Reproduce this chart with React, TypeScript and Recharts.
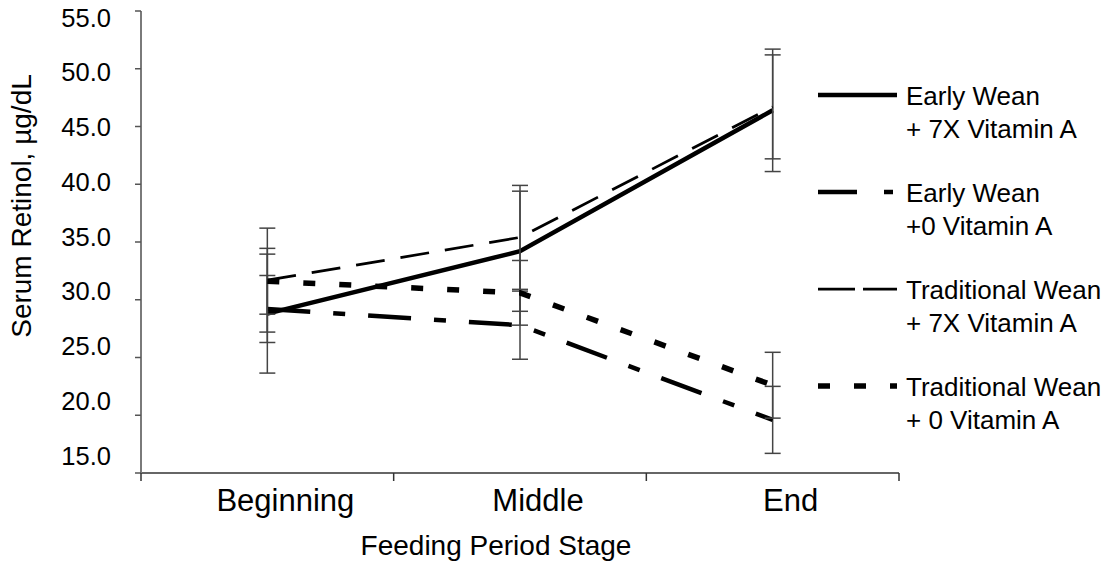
import React from "react";
import { LineChart, Line, XAxis, YAxis, ErrorBar, Legend, Label } from "recharts";

const FONT = "'Liberation Sans', Arial, sans-serif";

const stages = ["Beginning", "Middle", "End"];

const earlyWean7x = [28.8, 34.2, 46.4];
const earlyWean7xErr = [5.15, 5.2, 5.3];
const earlyWean0 = [29.2, 27.8, 19.6];
const earlyWean0Err = [2.9, 2.95, 2.9];
const tradWean7x = [31.7, 35.4, 46.7];
const tradWean7xErr = [4.5, 4.5, 4.5];
const tradWean0 = [31.6, 30.6, 22.6];
const tradWean0Err = [2.85, 2.8, 2.85];

const yTicks = [15, 20, 25, 30, 35, 40, 45, 50, 55];

const seriesLabels = [
  ["Early Wean", "+ 7X Vitamin A"],
  ["Early Wean", "+0 Vitamin A"],
  ["Traditional Wean", "+ 7X Vitamin A"],
  ["Traditional Wean", "+ 0 Vitamin A"],
];

const data = stages.map((stage, i) => ({
  stage,
  ew7: earlyWean7x[i],
  ew7Err: earlyWean7xErr[i],
  ew0: earlyWean0[i],
  ew0Err: earlyWean0Err[i],
  tw7: tradWean7x[i],
  tw7Err: tradWean7xErr[i],
  tw0: tradWean0[i],
  tw0Err: tradWean0Err[i],
}));

// line looks, in the same order as seriesLabels
const series = [
  { key: "ew7", width: 4.5, dash: undefined, legendDash: undefined },
  { key: "ew0", width: 4.5, dash: "43 23 12 23", legendDash: "39 27 9 27" },
  { key: "tw7", width: 2.75, dash: "29 16", legendDash: "37 8" },
  { key: "tw0", width: 5.5, dash: "12 24", legendDash: "12 24" },
];

function YTick(props: any) {
  const { x, y, payload } = props;
  const v = payload.value as number;
  // excel spreads the labels a little tighter than the ticks
  const shift = 6.5 - (3 * (55 - v)) / 5;
  return (
    <text
      x={x}
      y={y + shift + 9}
      textAnchor="end"
      fontFamily={FONT}
      fontSize={25.5}
      fill="#000"
    >
      {v.toFixed(1)}
    </text>
  );
}

function XTick(props: any) {
  const { x, y, payload, index, visibleTicksCount } = props;
  const half = payload.offset ?? 0;
  const last = index === (visibleTicksCount ?? 3) - 1;
  return (
    <g>
      <line x1={x - half} x2={x - half} y1={y} y2={y + 8} stroke="#333" strokeWidth={1.5} />
      {last && (
        <line x1={x + half} x2={x + half} y1={y} y2={y + 8} stroke="#333" strokeWidth={1.5} />
      )}
      <text x={x + 18} y={y + 38} textAnchor="middle" fontFamily={FONT} fontSize={31} fill="#000">
        {payload.value}
      </text>
    </g>
  );
}

function LegendContent() {
  return (
    <div style={{ fontFamily: FONT, fontSize: 26, color: "#000" }}>
      {series.map((s, i) => (
        <div key={s.key} style={{ display: "flex", height: 97, alignItems: "flex-start" }}>
          <svg width={80} height={33} style={{ flex: "none" }}>
            <line
              x1={0}
              x2={79}
              y1={15}
              y2={15}
              stroke="#000"
              strokeWidth={s.width}
              strokeDasharray={s.legendDash}
            />
          </svg>
          <div style={{ marginLeft: 8, lineHeight: "33px", whiteSpace: "nowrap" }}>
            {seriesLabels[i][0]}
            <br />
            {seriesLabels[i][1]}
          </div>
        </div>
      ))}
    </div>
  );
}

export default function App() {
  return (
    <div style={{ position: "absolute", left: 0, top: 0, background: "#fff" }}>
      <LineChart
        width={1108}
        height={565}
        data={data}
        margin={{ top: 11, right: 209, bottom: 0, left: 0 }}
      >
        <XAxis
          dataKey="stage"
          scale="band"
          height={92}
          axisLine={{ stroke: "#333", strokeWidth: 1.5 }}
          tickLine={false}
          tickSize={0}
          tickMargin={0}
          tick={<XTick />}
          interval={0}
        >
          <Label
            content={(p: any) => {
              const vb = p.viewBox;
              return (
                <text
                  x={vb.x + vb.width / 2 - 24}
                  y={vb.y + 82}
                  textAnchor="middle"
                  fontFamily={FONT}
                  fontSize={28}
                  fill="#000"
                >
                  Feeding Period Stage
                </text>
              );
            }}
          />
        </XAxis>
        <YAxis
          domain={[15, 55]}
          ticks={yTicks}
          interval={0}
          width={141}
          axisLine={{ stroke: "#7a7a7a", strokeWidth: 2 }}
          tickLine={{ stroke: "#555", strokeWidth: 1.5 }}
          tickSize={6}
          tickMargin={24}
          tick={<YTick />}
        >
          <Label
            content={(p: any) => {
              const vb = p.viewBox;
              const cy = vb.y + vb.height / 2 - 36;
              return (
                <text
                  transform={`translate(31, ${cy}) rotate(-90)`}
                  textAnchor="middle"
                  fontFamily={FONT}
                  fontSize={28}
                  fill="#000"
                >
                  Serum Retinol, µg/dL
                </text>
              );
            }}
          />
        </YAxis>
        <Legend
          layout="vertical"
          align="center"
          verticalAlign="middle"
          wrapperStyle={{ left: 818, top: 80, width: 290 }}
          content={<LegendContent />}
        />
        {series.map((s) => (
          <Line
            key={s.key}
            dataKey={s.key}
            type="linear"
            stroke="#000"
            strokeWidth={s.width}
            strokeDasharray={s.dash}
            dot={false}
            activeDot={false}
            isAnimationActive={false}
          >
            <ErrorBar
              dataKey={`${s.key}Err`}
              direction="y"
              width={8}
              stroke="#444"
              strokeWidth={1.5}
              isAnimationActive={false}
            />
          </Line>
        ))}
      </LineChart>
    </div>
  );
}
